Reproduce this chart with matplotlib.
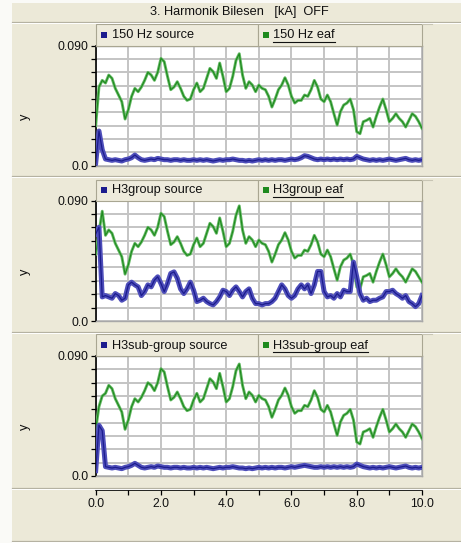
import numpy as np
import matplotlib
matplotlib.use("Agg")
import matplotlib.pyplot as plt
from matplotlib.lines import Line2D
from matplotlib.patches import Rectangle

plt.rcParams['font.family'] = ['Liberation Sans', 'DejaVu Sans']

# ---------------- data ----------------
time = np.round(np.arange(0, 10.01, 0.1), 1)

eaf_150hz = [0.030, 0.059, 0.064, 0.062, 0.068, 0.0655, 0.058, 0.053, 0.048, 0.035,
             0.042, 0.052, 0.058, 0.0555, 0.059, 0.064, 0.070, 0.068, 0.064, 0.070,
             0.0805, 0.078, 0.067, 0.057, 0.059, 0.063, 0.058, 0.052, 0.049, 0.050,
             0.057, 0.062, 0.0555, 0.058, 0.0655, 0.073, 0.0705, 0.0655, 0.077, 0.067,
             0.0555, 0.058, 0.067, 0.079, 0.084, 0.068, 0.058, 0.063, 0.0605, 0.0555,
             0.0605, 0.058, 0.057, 0.052, 0.044, 0.050, 0.057, 0.0605, 0.066, 0.0605,
             0.052, 0.047, 0.049, 0.049, 0.053, 0.052, 0.057, 0.064, 0.059, 0.050,
             0.048, 0.053, 0.048, 0.039, 0.0305, 0.0405, 0.0455, 0.047, 0.050, 0.042,
             0.0255, 0.024, 0.033, 0.034, 0.0355, 0.029, 0.037, 0.044, 0.050, 0.042,
             0.033, 0.0355, 0.039, 0.0355, 0.033, 0.029, 0.034, 0.039, 0.037, 0.033,
             0.028]

eaf_h3group = [0.050, 0.066, 0.082, 0.064, 0.068, 0.0655, 0.058, 0.053, 0.048, 0.035,
               0.042, 0.052, 0.058, 0.0555, 0.059, 0.064, 0.070, 0.068, 0.064, 0.070,
               0.0805, 0.078, 0.067, 0.057, 0.059, 0.063, 0.058, 0.052, 0.049, 0.050,
               0.057, 0.062, 0.0555, 0.058, 0.0655, 0.073, 0.0705, 0.0655, 0.077, 0.067,
               0.0555, 0.058, 0.067, 0.079, 0.086, 0.068, 0.058, 0.063, 0.0605, 0.0555,
               0.0605, 0.058, 0.057, 0.052, 0.044, 0.050, 0.057, 0.0605, 0.066, 0.0605,
               0.052, 0.047, 0.049, 0.049, 0.053, 0.052, 0.057, 0.064, 0.059, 0.050,
               0.048, 0.053, 0.048, 0.039, 0.0305, 0.0405, 0.0455, 0.047, 0.050, 0.042,
               0.0255, 0.024, 0.033, 0.034, 0.0355, 0.029, 0.037, 0.044, 0.050, 0.042,
               0.033, 0.0355, 0.039, 0.0355, 0.033, 0.029, 0.034, 0.039, 0.037, 0.033,
               0.029]

eaf_h3sub = [0.035, 0.052, 0.060, 0.062, 0.068, 0.0655, 0.058, 0.053, 0.048, 0.035,
             0.042, 0.052, 0.058, 0.0555, 0.059, 0.064, 0.070, 0.068, 0.064, 0.070,
             0.0805, 0.078, 0.067, 0.057, 0.059, 0.063, 0.058, 0.052, 0.049, 0.050,
             0.057, 0.062, 0.0555, 0.058, 0.0655, 0.073, 0.0705, 0.0655, 0.077, 0.067,
             0.0555, 0.058, 0.067, 0.079, 0.084, 0.068, 0.058, 0.063, 0.0605, 0.0555,
             0.0605, 0.058, 0.057, 0.052, 0.044, 0.050, 0.057, 0.0605, 0.066, 0.0605,
             0.052, 0.047, 0.049, 0.049, 0.053, 0.052, 0.057, 0.064, 0.059, 0.050,
             0.048, 0.053, 0.048, 0.039, 0.0305, 0.0405, 0.0455, 0.047, 0.050, 0.042,
             0.0255, 0.024, 0.033, 0.034, 0.0355, 0.029, 0.037, 0.044, 0.050, 0.042,
             0.033, 0.0355, 0.039, 0.0355, 0.033, 0.029, 0.034, 0.039, 0.037, 0.033,
             0.028]

source_150hz = [0.002, 0.026, 0.012, 0.005, 0.0045, 0.004, 0.0045, 0.004, 0.0035, 0.0045,
                0.005, 0.006, 0.008, 0.006, 0.0045, 0.004, 0.0045, 0.005, 0.0045, 0.0055,
                0.005, 0.0045, 0.0045, 0.004, 0.0045, 0.0045, 0.004, 0.0045, 0.004, 0.004,
                0.0045, 0.004, 0.0045, 0.004, 0.0045, 0.004, 0.0035, 0.004, 0.0045, 0.004,
                0.0045, 0.0045, 0.005, 0.0045, 0.004, 0.004, 0.0035, 0.004, 0.0035, 0.004,
                0.0045, 0.004, 0.0045, 0.004, 0.0045, 0.004, 0.0045, 0.0045, 0.004, 0.0045,
                0.005, 0.0045, 0.005, 0.006, 0.0075, 0.007, 0.006, 0.005, 0.0045, 0.005,
                0.0045, 0.005, 0.0045, 0.005, 0.0045, 0.005, 0.0045, 0.005, 0.0045, 0.005,
                0.007, 0.006, 0.005, 0.0045, 0.004, 0.0045, 0.004, 0.0045, 0.004, 0.0045,
                0.005, 0.0045, 0.004, 0.0045, 0.005, 0.0055, 0.0045, 0.004, 0.0045, 0.004,
                0.0045]

source_h3group = [0.065, 0.070, 0.018, 0.019, 0.018, 0.017, 0.0205, 0.019, 0.0155, 0.017,
                  0.027, 0.029, 0.027, 0.0255, 0.019, 0.022, 0.027, 0.0255, 0.0305, 0.033,
                  0.028, 0.022, 0.028, 0.0355, 0.0367, 0.032, 0.024, 0.0205, 0.024, 0.029,
                  0.023, 0.0145, 0.0155, 0.017, 0.0145, 0.013, 0.012, 0.0145, 0.018, 0.023,
                  0.022, 0.019, 0.023, 0.0255, 0.022, 0.018, 0.022, 0.024, 0.017, 0.013,
                  0.013, 0.012, 0.013, 0.013, 0.0145, 0.017, 0.022, 0.027, 0.024, 0.019,
                  0.017, 0.019, 0.024, 0.027, 0.024, 0.027, 0.0205, 0.027, 0.037, 0.037,
                  0.022, 0.018, 0.019, 0.017, 0.0205, 0.018, 0.023, 0.022, 0.022, 0.044,
                  0.033, 0.0205, 0.0155, 0.017, 0.0145, 0.0155, 0.0155, 0.017, 0.018, 0.022,
                  0.022, 0.023, 0.0205, 0.019, 0.017, 0.019, 0.0145, 0.013, 0.0107, 0.013,
                  0.019]

source_h3sub = [0.004, 0.038, 0.034, 0.007, 0.0065, 0.006, 0.0065, 0.006, 0.0055, 0.0065,
                0.007, 0.008, 0.0095, 0.008, 0.0065, 0.006, 0.0065, 0.007, 0.0065, 0.0075,
                0.007, 0.0065, 0.0065, 0.006, 0.0065, 0.0065, 0.006, 0.0065, 0.006, 0.006,
                0.0065, 0.006, 0.0065, 0.006, 0.0065, 0.006, 0.0055, 0.006, 0.0065, 0.006,
                0.0065, 0.0065, 0.007, 0.0065, 0.006, 0.006, 0.0055, 0.006, 0.0055, 0.006,
                0.0065, 0.006, 0.0065, 0.006, 0.0065, 0.006, 0.0065, 0.0065, 0.006, 0.0065,
                0.007, 0.0065, 0.007, 0.0075, 0.008, 0.0075, 0.007, 0.0065, 0.0065, 0.007,
                0.0065, 0.007, 0.0065, 0.007, 0.0065, 0.007, 0.0065, 0.007, 0.0065, 0.007,
                0.009, 0.008, 0.007, 0.0065, 0.006, 0.0065, 0.006, 0.0065, 0.006, 0.0065,
                0.007, 0.0065, 0.006, 0.0065, 0.007, 0.0075, 0.0065, 0.006, 0.0065, 0.006,
                0.0065]

legend_labels = [("150 Hz source", "150 Hz eaf"),
                 ("H3group source", "H3group eaf"),
                 ("H3sub-group source", "H3sub-group eaf")]
title_text = "3. Harmonik Bilesen   [kA]  OFF"
y_ticks = [0.0, 0.01, 0.02, 0.03, 0.04, 0.05, 0.06, 0.07, 0.08, 0.09]
y_tick_labels = ["0.0", "", "", "", "", "", "", "", "", "0.090"]
x_ticks = [0, 1, 2, 3, 4, 5, 6, 7, 8, 9, 10]
x_tick_labels = ["0.0", "", "2.0", "", "4.0", "", "6.0", "", "8.0", "", "10.0"]

# ---------------- layout ----------------
W, H = 461, 543
BG = "#ECE9D8"
BLUE = "#1C1C8E"
BLUE_BAND = "#4E4EBA"
GREEN = "#1E8A1E"
GREEN_BAND = "#66BA66"

fig = plt.figure(figsize=(W / 100, H / 100), dpi=100, facecolor=BG)

def fx(x):
    return x / W

def fy(y):
    return 1 - y / H

def rect(x0, y0, x1, y1):
    return [fx(x0), fy(y1), (x1 - x0) / W, (y1 - y0) / H]

def hline(y, x0, x1, color, lw=1.0):
    fig.add_artist(Line2D([fx(x0), fx(x1)], [fy(y), fy(y)], color=color, lw=lw,
                          transform=fig.transFigure))

# white left strip and top strip
fig.add_artist(Rectangle((0, 0), fx(12), 1, transform=fig.transFigure,
                         facecolor="#FAFAF7", edgecolor="none"))
fig.add_artist(Rectangle((fx(12), fy(2.5)), 1, 2.5 / H, transform=fig.transFigure,
                         facecolor="#FAFAF7", edgecolor="none"))

# title
fig.text(fx(239), fy(12), title_text, ha="center", va="center", fontsize=9.2, color="#111111")

# panel separators
for ys in [21.5, 176.0, 332.0, 487.5, 540.5]:
    hline(ys, 12, W, "#B5B2A2", 0.9)
    hline(ys + 1.2, 12, W, "#FFFFFF", 0.7)

panels = [
    (45.7, 165.7, 24.0, source_150hz, eaf_150hz),
    (200.5, 321.0, 179.5, source_h3group, eaf_h3group),
    (356.0, 476.0, 334.0, source_h3sub, eaf_h3sub),
]

X0, X1, XMID = 95.7, 422.0, 258.0

texts_to_underline = []
for i, (ytop, ybot, ylegend, src, eaf) in enumerate(panels):
    ax = fig.add_axes(rect(X0, ytop, X1, ybot))
    ax.set_facecolor("white")
    ax.set_xlim(0, 10)
    ax.set_ylim(0, 0.09)
    ax.set_xticks(x_ticks)
    ax.set_yticks(y_ticks)
    ax.set_yticklabels(y_tick_labels)
    ax.grid(True, color="#C4C4C4", lw=1.4)
    ax.set_axisbelow(True)
    ax.tick_params(axis="x", length=0, labelbottom=False)
    ax.tick_params(axis="y", length=3.5, width=0.9, color="black", labelsize=8.7,
                   pad=1.5, labelcolor="#111111")
    for s in ["top", "right", "bottom"]:
        ax.spines[s].set_color("#A8A8A8")
        ax.spines[s].set_linewidth(1.0)
    ax.spines["left"].set_color("black")
    ax.spines["left"].set_linewidth(1.2)

    ax.plot(time, eaf, color=GREEN_BAND, lw=2.1, solid_joinstyle="round", zorder=3)
    ax.plot(time, eaf, color=GREEN, lw=0.8, zorder=4)
    ax.plot(time, src, color=BLUE_BAND, lw=3.6, solid_joinstyle="round", zorder=5)
    ax.plot(time, src, color=BLUE, lw=0.9, zorder=6)

    # y label
    fig.text(fx(25), fy((ytop + ybot) / 2 + 11), "y", rotation=90, ha="center",
             va="center", fontsize=9.2, color="#111111")

    # legend bar
    for (a, b) in [(X0, XMID), (XMID, X1)]:
        fig.add_artist(Rectangle((fx(a), fy(ytop)), (b - a) / W, (ytop - ylegend) / H,
                                 transform=fig.transFigure, facecolor="#EEEBDC",
                                 edgecolor="#A9A692", lw=0.8))
    hline(ylegend, X1, 432, "#C8C5B4", 0.8)
    ymid = (ylegend + ytop) / 2
    sq = 6.0
    fig.add_artist(Rectangle((fx(100.5), fy(ymid + sq / 2)), sq / W, sq / H,
                             transform=fig.transFigure, facecolor=BLUE, edgecolor="none"))
    fig.add_artist(Rectangle((fx(262.5), fy(ymid + sq / 2)), sq / W, sq / H,
                             transform=fig.transFigure, facecolor="#1E8A1E", edgecolor="none"))
    fig.text(fx(111.5), fy(ymid + 0.5), legend_labels[i][0], ha="left", va="center",
             fontsize=9.2, color="#111111")
    t2 = fig.text(fx(273), fy(ymid + 0.5), legend_labels[i][1], ha="left", va="center",
                  fontsize=9.2, color="#111111")
    texts_to_underline.append((t2, ymid))

# bottom x axis
axx = fig.add_axes(rect(X0, 489.0, X1, 490.0))
axx.set_facecolor("none")
axx.set_xlim(0, 10)
axx.set_ylim(0, 1)
for s in ["top", "left", "right"]:
    axx.spines[s].set_visible(False)
axx.spines["bottom"].set_color("black")
axx.spines["bottom"].set_linewidth(1.2)
axx.set_yticks([])
axx.set_xticks(x_ticks)
axx.set_xticklabels(x_tick_labels)
axx.tick_params(axis="x", length=3.5, width=0.9, labelsize=8.7, pad=2.5, labelcolor="#111111")

# underline "eaf" legend entries
fig.canvas.draw()
renderer = fig.canvas.get_renderer()
for t, ymid in texts_to_underline:
    bb = t.get_window_extent(renderer)
    hline(ymid + 7.0, bb.x0, bb.x1, "#111111", 0.8)

fig.savefig("out.png", dpi=100, facecolor=BG)
